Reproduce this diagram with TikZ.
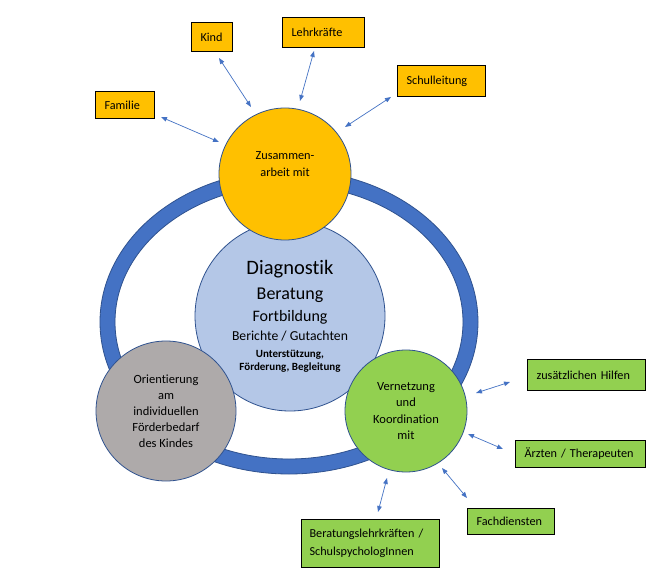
\documentclass[tikz,border=0pt]{standalone}
\usepackage{fontspec}
\setmainfont{Carlito}[Ligatures={NoCommon}]
\usetikzlibrary{arrows.meta}
\definecolor{ringblue}{HTML}{4472C4}
\definecolor{edgeblue}{HTML}{2F528F}
\definecolor{cyellow}{HTML}{FFC000}
\definecolor{cgreen}{HTML}{92D050}
\definecolor{cgray}{HTML}{AEAAAA}
\definecolor{clblue}{HTML}{B4C7E7}
\begin{document}
\begin{tikzpicture}[x=1pt,y=-1pt,
  circ/.style={circle, draw=edgeblue, line width=0.8pt, inner sep=0pt, align=center},
  ctext/.style={align=center, font=\fontsize{12.3}{16.5}\selectfont},
  box/.style={draw=black, line width=1.1pt, fill=#1, anchor=north west, inner xsep=9pt, inner ysep=0pt, align=left, font=\fontsize{12.2}{18}\selectfont},
  biarrow/.style={draw=ringblue, line width=0.7pt, {Triangle[length=6pt,width=4.5pt]}-{Triangle[length=6pt,width=4.5pt]}}
]
\useasboundingbox (0,0) rectangle (655,585);
\fill[white] (0,0) rectangle (655,585);

% ring
\path[fill=ringblue, draw=edgeblue, line width=0.8pt, even odd rule]
  (289,322) ellipse [x radius=189pt, y radius=152pt]
  (289,322) ellipse [x radius=174pt, y radius=137pt];

% circles
\node[circ, fill=clblue, minimum size=190pt] (diag) at (290,316) {};
\node[circ, fill=cyellow, minimum size=132pt] (zus) at (285,174) {};
\node[ctext] (zust) at (285,164) {Zusammen-\\arbeit mit};
\node[circ, fill=cgray, minimum size=140pt, font=\fontsize{12.5}{16}\selectfont] (ori) at (166,411) {Orientierung\\am\\individuellen\\Förderbedarf\\des Kindes};
\node[circ, fill=cgreen, minimum size=122pt, font=\fontsize{12.5}{16.5}\selectfont] (vern) at (406,411) {Vernetzung\\und\\Koordination\\mit};

% center texts
\node[anchor=base, font=\fontsize{20.5}{24}\selectfont] (t1) at (290,274) {Diagnostik};
\node[anchor=base, font=\fontsize{18}{22}\selectfont] (t2) at (290,299) {Beratung};
\node[anchor=base, font=\fontsize{16}{20}\selectfont] (t3) at (290,321) {Fortbildung};
\node[anchor=base, font=\fontsize{13.7}{16}\selectfont] (t4) at (290,340) {Berichte / Gutachten};
\node[anchor=base, font=\bfseries\fontsize{11}{13}\selectfont] (t5) at (290,357) {Unterstützung,};
\node[anchor=base, font=\bfseries\fontsize{11}{13}\selectfont] (t6) at (290,370) {Förderung, Begleitung};

% boxes
\node[box=cyellow, minimum width=41pt, minimum height=29pt, text width=23pt] (kind) at (191,22) {Kind};
\node[box=cyellow, minimum width=82pt, minimum height=30pt, text width=64pt] (lehr) at (282,17) {Lehrkräfte};
\node[box=cyellow, minimum width=88pt, minimum height=31pt, text width=70pt] (schul) at (397,65) {Schulleitung};
\node[box=cyellow, minimum width=59pt, minimum height=27pt, text width=41pt] (fam) at (95,91) {Familie};
\node[box=cgreen, minimum width=118pt, minimum height=31pt, text width=100pt] (hilf) at (527,359) {zusätzlichen Hilfen};
\node[box=cgreen, minimum width=130pt, minimum height=27pt, text width=112pt] (arzt) at (515,440) {Ärzten / Therapeuten};
\node[box=cgreen, minimum width=87pt, minimum height=26pt, text width=69pt] (fach) at (467,508) {Fachdiensten};
\node[box=cgreen, minimum width=138pt, minimum height=48pt, text width=122pt, inner xsep=8pt] (bera) at (301,519) {Beratungslehrkräften /\\SchulspychologInnen};

% arrow end points
\coordinate (a1s) at (161,117); \coordinate (a1e) at (219,142);
\coordinate (a2s) at (219,58);  \coordinate (a2e) at (251,107);
\coordinate (a3s) at (314,51);  \coordinate (a3e) at (300,101);
\coordinate (a4s) at (391,97);  \coordinate (a4e) at (345,127);
\coordinate (a5s) at (510,382); \coordinate (a5e) at (476,393);
\coordinate (a6s) at (468,434); \coordinate (a6e) at (503,449);
\coordinate (a7s) at (442,468); \coordinate (a7e) at (467,498);
\coordinate (a8s) at (387,478); \coordinate (a8e) at (378,512);

\draw[biarrow] (a1s) -- (a1e);
\draw[biarrow] (a2s) -- (a2e);
\draw[biarrow] (a3s) -- (a3e);
\draw[biarrow] (a4s) -- (a4e);
\draw[biarrow] (a5s) -- (a5e);
\draw[biarrow] (a6s) -- (a6e);
\draw[biarrow] (a7s) -- (a7e);
\draw[biarrow] (a8s) -- (a8e);
\end{tikzpicture}
\end{document}
